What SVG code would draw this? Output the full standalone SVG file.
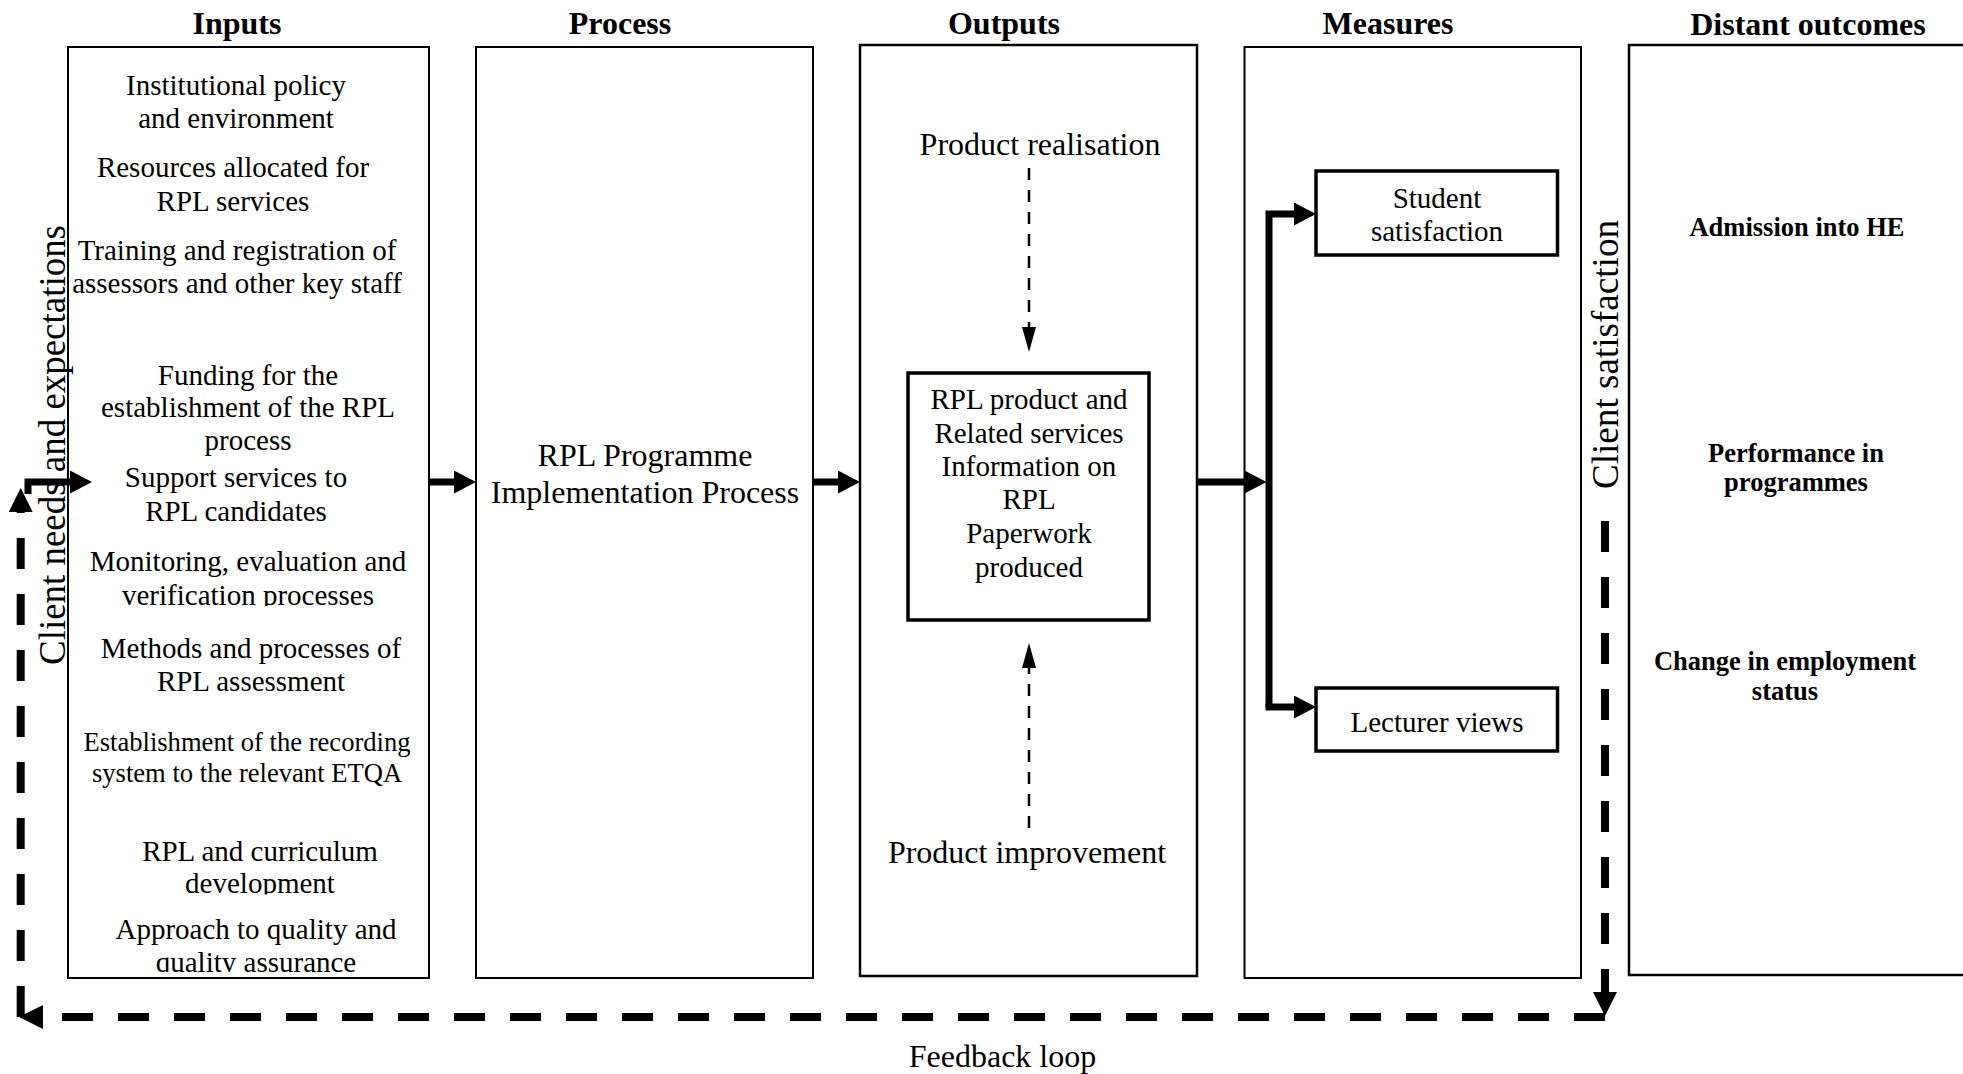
<svg xmlns="http://www.w3.org/2000/svg" width="1963" height="1074" viewBox="0 0 1963 1074">
<style>
text{font-family:"Liberation Serif","Times New Roman",serif;fill:#000}
.t{font-size:32px;font-weight:bold;text-anchor:middle}
.in{font-size:29px;text-anchor:middle}
.sm{font-size:26.6px;text-anchor:middle}
.big{font-size:32px;text-anchor:middle}
.md{font-size:29px;text-anchor:middle}
.bd{font-size:26.5px;font-weight:bold;text-anchor:middle}
.vt{font-size:37.5px}
.col{fill:#fff;stroke:#000;stroke-width:2}
.inner{fill:#fff;stroke:#000;stroke-width:3.5}
.thick{fill:none;stroke:#000;stroke-width:7;stroke-linejoin:miter}
.dash{fill:none;stroke:#000;stroke-width:2.5;stroke-dasharray:12 10}
.loop{fill:none;stroke:#000;stroke-width:8;stroke-dasharray:31 25}
</style>
<defs>
<marker id="ah" markerUnits="userSpaceOnUse" viewBox="0 0 22 23" refX="0" refY="11.5" markerWidth="22" markerHeight="23" orient="auto"><path d="M0,0 L22,11.5 L0,23 Z" fill="#000"/></marker>
<marker id="ahs" markerUnits="userSpaceOnUse" viewBox="0 0 25 14" refX="0" refY="7" markerWidth="25" markerHeight="14" orient="auto"><path d="M0,0 L25,7 L0,14 Z" fill="#000"/></marker>
<marker id="ahl" markerUnits="userSpaceOnUse" viewBox="0 0 24 24" refX="0" refY="12" markerWidth="24" markerHeight="24" orient="auto"><path d="M0,0 L24,12 L0,24 Z" fill="#000"/></marker>
<clipPath id="c1"><rect x="68" y="540" width="361" height="66"/></clipPath>
<clipPath id="c2"><rect x="68" y="830" width="361" height="64.5"/></clipPath>
<clipPath id="c3"><rect x="68" y="905" width="361" height="67"/></clipPath>
</defs>

<g id="titles">
<text class="t" x="237" y="34">Inputs</text>
<text class="t" x="620" y="34">Process</text>
<text class="t" x="1004" y="34">Outputs</text>
<text class="t" x="1388" y="34">Measures</text>
<text class="t" x="1808" y="35">Distant outcomes</text>
</g>

<g id="inputs">
<rect class="col" x="68" y="47" width="361" height="931"/>
<text class="in" x="236" y="95">Institutional policy</text>
<text class="in" x="236" y="128">and environment</text>
<text class="in" x="233" y="177">Resources allocated for</text>
<text class="in" x="233" y="211">RPL services</text>
<text class="in" x="237" y="260">Training and registration of</text>
<text class="in" x="237" y="293">assessors and other key staff</text>
<text class="in" x="248" y="385">Funding for the</text>
<text class="in" x="248" y="417">establishment of the RPL</text>
<text class="in" x="248" y="450">process</text>
<text class="in" x="236" y="487">Support services to</text>
<text class="in" x="236" y="521">RPL candidates</text>
<g clip-path="url(#c1)">
<text class="in" x="248" y="571">Monitoring, evaluation and</text>
<text class="in" x="248" y="605">verification processes</text>
</g>
<text class="in" x="251" y="658">Methods and processes of</text>
<text class="in" x="251" y="691">RPL assessment</text>
<text class="sm" x="247" y="751">Establishment of the recording</text>
<text class="sm" x="247" y="782">system to the relevant ETQA</text>
<g clip-path="url(#c2)">
<text class="in" x="260" y="861">RPL and curriculum</text>
<text class="in" x="260" y="893">development</text>
</g>
<g clip-path="url(#c3)">
<text class="in" x="256" y="939">Approach to quality and</text>
<text class="in" x="256" y="971.5">quality assurance</text>
</g>
</g>

<g id="process">
<rect class="col" x="476" y="47" width="337" height="931"/>
<text class="big" x="645" y="466">RPL Programme</text>
<text class="big" x="645" y="503">Implementation Process</text>
</g>

<g id="outputs">
<rect class="col" x="860" y="45" width="337" height="931" style="stroke-width:2.5"/>
<text class="big" x="1040" y="155">Product realisation</text>
<text class="big" x="1027" y="863">Product improvement</text>
</g>

<g id="rpl-product">
<rect class="inner" x="908" y="373" width="241" height="247"/>
<text class="md" x="1029" y="409">RPL product and</text>
<text class="md" x="1029" y="443">Related services</text>
<text class="md" x="1029" y="476">Information on</text>
<text class="md" x="1029" y="509">RPL</text>
<text class="md" x="1029" y="543">Paperwork</text>
<text class="md" x="1029" y="577">produced</text>
</g>

<g id="measures">
<rect class="col" x="1244.5" y="47" width="336.5" height="931"/>
</g>

<g id="student-satisfaction">
<rect class="inner" x="1316" y="171" width="241.5" height="84"/>
<text class="md" x="1437" y="208">Student</text>
<text class="md" x="1437" y="241">satisfaction</text>
</g>

<g id="lecturer-views">
<rect class="inner" x="1316" y="688" width="241.5" height="63"/>
<text class="md" x="1437" y="731.5">Lecturer views</text>
</g>

<g id="distant-outcomes">
<rect class="col" x="1629" y="45" width="400" height="930" style="stroke-width:2.5"/>
<text class="bd" x="1797" y="235.5">Admission into HE</text>
<text class="bd" x="1796" y="461.5">Performance in</text>
<text class="bd" x="1796" y="491">programmes</text>
<text class="bd" x="1785" y="669.5">Change in employment</text>
<text class="bd" x="1785" y="699.5">status</text>
</g>

<g id="side-labels">
<text class="vt" transform="translate(65,665) rotate(-90)" textLength="440" lengthAdjust="spacingAndGlyphs">Client needs and expectations</text>
<text class="vt" transform="translate(1618,489) rotate(-90)" textLength="269" lengthAdjust="spacingAndGlyphs">Client satisfaction</text>
<text class="big" x="1002.5" y="1067">Feedback loop</text>
</g>

<g id="connectors">
<path class="thick" d="M28,494 V482 H70" marker-end="url(#ah)"/>
<path class="thick" d="M429,482 H454" marker-end="url(#ah)"/>
<path class="thick" d="M813,482 H838" marker-end="url(#ah)"/>
<path class="thick" d="M1197,482 H1244.5" marker-end="url(#ah)"/>
<path class="thick" d="M1269,707 V214 H1294" marker-end="url(#ah)"/>
<path class="thick" d="M1265.5,707 H1294" marker-end="url(#ah)"/>
<path class="dash" d="M1029,168 V327" marker-end="url(#ahs)"/>
<path class="dash" d="M1029,828 V668" marker-end="url(#ahs)"/>
<path class="loop" d="M1605,521 V992" marker-end="url(#ahl)"/>
<path class="loop" d="M1605,1017 H43" marker-end="url(#ahl)"/>
<path class="loop" d="M20.7,1017 V512" marker-end="url(#ahl)"/>
</g>
</svg>
